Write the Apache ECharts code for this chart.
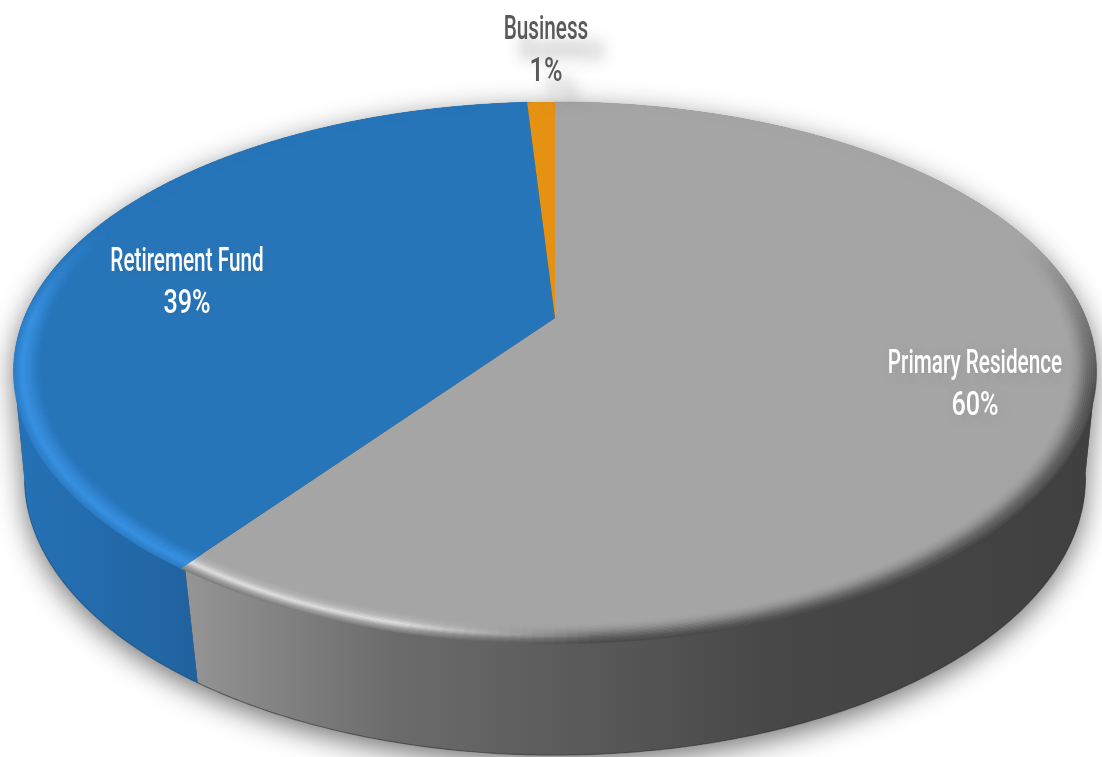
<!DOCTYPE html>
<html><head><meta charset="utf-8">
<style>html,body{margin:0;padding:0;background:#fff}#c{width:1102px;height:757px}</style>
<script src="https://cdn.jsdelivr.net/npm/echarts@6/dist/echarts.min.js"></script>
</head><body><div id="c"></div>
<script>
const categories = ['Primary Residence', 'Retirement Fund', 'Business'];
const values = [60, 39, 1];

// appearance, per category
const faceColors = ['#a5a5a5', '#2775b9', '#e59213'];
const wallStops = [
  [[0,'#949494'],[0.22,'#6c6c6c'],[0.45,'#585858'],[0.65,'#474747'],[1,'#404040']],
  [[0,'#2572b6'],[0.1,'#2369a9'],[0.22,'#1f5d96'],[1,'#1f5d96']],
  [[0,'#b06f0d'],[1,'#b06f0d']]
];
const labelColors = ['#ffffff', '#ffffff', '#595959'];
const labelCenters = [[975, 385], [187, 283], [546, 51]];

// projection of the pie's disc on to the page
const OX = 555, OY = 318, SX = 531, SY = 258, K = 0.194;
const RIM_CY = 370, BOTTOM_CY = 478, BOTTOM_SX = 0.98, BOTTOM_SY = 1.0336;
const TANGENT = Math.acos(-K);
const TAU = Math.PI * 2;
const total = values.reduce((a, b) => a + b, 0);
const starts = []; values.reduce((acc, v, i) => { starts[i] = acc; return acc + v; }, 0);
const angleOf = s => s / total * TAU;
const deg = d => d * Math.PI / 180;

function topPt(th, r) {
  const u = r * Math.sin(th), v = -r * Math.cos(th), d = 1 - K * v;
  return [OX + SX * u / d, OY + SY * v / d];
}
function bottomPt(th) {
  const p = topPt(th - deg(0.7), 1);
  return [OX + (p[0] - OX) * BOTTOM_SX, BOTTOM_CY + (p[1] - RIM_CY) * BOTTOM_SY];
}
function rimRadius(th) {
  const c = Math.max(0, -Math.cos(th));
  return 1 + 0.014 * c * c;
}
function arc(a, b, fn) {
  const n = Math.max(2, Math.ceil(Math.abs(b - a) / 0.01)), pts = [];
  for (let i = 0; i <= n; i++) pts.push(fn(a + (b - a) * i / n));
  return pts;
}
function hex(c) { return [1,3,5].map(i => parseInt(c.substr(i, 2), 16)); }
function mixRgb(a, b, t) {
  t = Math.max(0, Math.min(1, t));
  const A = hex(a), B = hex(b);
  return A.map((x, i) => Math.round(x + (B[i] - x) * t));
}
function toHex(m) { return '#' + m.map(x => x.toString(16).padStart(2, '0')).join(''); }
function mix(a, b, t) { return toHex(mixRgb(a, b, t)); }
function ramp(stops, t) {
  for (let i = 1; i < stops.length; i++) {
    if (t <= stops[i][0]) {
      const s = stops[i - 1], e = stops[i];
      return mix(s[1], e[1], (t - s[0]) / (e[0] - s[0]));
    }
  }
  return stops[stops.length - 1][1];
}

// rim bevel colour: t = 0 at the rim edge, 1 at the inner end of the bevel
function bevelColor(i, th, t) {
  const d = th * 180 / Math.PI;
  const face = faceColors[i];
  if (i === 0) {
    const lit = ramp([[0,'#787878'],[0.25,'#a8a8a8'],[0.45,'#e2e2e2'],[0.7,'#b6b6b6'],[1,face]], t);
    const dark = ramp([[0,'#484848'],[0.35,'#626262'],[0.7,'#909090'],[1,face]], t);
    const w = Math.max(0, Math.min(1, (d - 176) / 18));      // towards the lit left end
    const fade = Math.max(0, Math.min(1, (d - 72) / 34));    // no bevel on the far rim
    return mix(face, mix(dark, lit, w), fade);
  }
  if (i === 1) {
    const lit = ramp([[0,'#2a7cc4'],[0.35,'#3a92e2'],[0.6,'#3388d4'],[1,face]], t);
    const fade = Math.max(0, Math.min(1, (292 - d) / 22));
    return mix(face, lit, fade);
  }
  return face;
}

function renderItem(params) {
  const i = params.dataIndex;
  const layer = params.seriesIndex;
  const a = angleOf(starts[i]), b = angleOf(starts[i] + values[i]);
  const children = [];
  if (layer === 0) {
    if (i === 0) {
      children.push({ type: 'polygon', shape: { points: arc(TANGENT, TAU - TANGENT, bottomPt).concat(arc(TAU - TANGENT, TANGENT + TAU, th => topPt(th, 1))) },
        style: { fill: '#555', shadowColor: 'rgba(0,0,0,0.55)', shadowBlur: 28, shadowOffsetY: 8 } });
    }
    return { type: 'group', children };
  }
  if (layer === 1) {
    const s = Math.max(a, TANGENT), e = Math.min(b, TAU - TANGENT);
    if (e > s) {
      const grad = i === 1
        ? { type: 'linear', x: 14, y: 0, x2: 1096, y2: 0, global: true, colorStops: wallStops[1].map(c => ({ offset: c[0], color: c[1] })) }
        : { type: 'linear', x: 190, y: 0, x2: 1096, y2: 0, global: true, colorStops: wallStops[i].map(c => ({ offset: c[0], color: c[1] })) };
      const tp = arc(s, e, th => topPt(th, 1)), bt = arc(e, s, bottomPt);
      children.push({ type: 'polygon', shape: { points: tp.concat(bt) }, style: { fill: grad } });
      children.push({ type: 'polyline', shape: { points: bt }, style: { fill: null, stroke: i === 1 ? '#174a78' : '#333333', lineWidth: 1.2, opacity: 0.5 } });
    }
    return { type: 'group', children };
  }
  // top face
  const face = [[OX, OY]].concat(arc(a, b, th => topPt(th, 1)));
  children.push({ type: 'polygon', shape: { points: face }, style: { fill: faceColors[i] } });
  // rim bevel
  const BANDS = 14, BEVEL = 0.048, STEP = deg(1);
  if (i < 2) {
    for (let j = 0; j < BANDS; j++) {
      const f0 = BEVEL * j / BANDS, f1 = BEVEL * (j + 1) / BANDS;
      for (let th = a; th < b - 1e-6; th += STEP) {
        const th2 = Math.min(b, th + STEP);
        const col = bevelColor(i, (th + th2) / 2, (j + 0.5) / BANDS);
        children.push({ type: 'polygon',
          shape: { points: [topPt(th, rimRadius(th) - f0), topPt(th2, rimRadius(th2) - f0), topPt(th2, rimRadius(th2) - f1), topPt(th, rimRadius(th) - f1)] },
          style: { fill: col, stroke: col, lineWidth: 0.5 } });
      }
    }
  }
  return { type: 'group', children };
}

function labelStyle(i, text) {
  return { text, align: 'center', verticalAlign: 'middle',
    fontFamily: 'Roboto', fontWeight: 500, fontSize: 34, fill: labelColors[i],
    textShadowColor: i === 2 ? 'rgba(0,0,0,0.28)' : 'rgba(0,0,0,0.05)', textShadowBlur: i === 2 ? 14 : 8,
    textShadowOffsetX: i === 2 ? 16 : 3, textShadowOffsetY: i === 2 ? 20 : 3 };
}
function renderLabel(params) {
  const i = params.dataIndex;
  const pct = Math.round(values[i] / total * 100) + '%';
  const [x, y] = labelCenters[i];
  return { type: 'group', children: [
    { type: 'text', x, y: y - 21, scaleX: 0.61, style: labelStyle(i, categories[i]) },
    { type: 'text', x, y: y + 21, scaleX: 0.74, style: labelStyle(i, pct) }
  ] };
}

const data = values.map(v => v);
const base = { type: 'custom', coordinateSystem: 'none', silent: true, animation: false, data };
const chart = echarts.init(document.getElementById('c'), null, { renderer: 'canvas' });
chart.setOption({
  backgroundColor: '#ffffff',
  animation: false,
  series: [
    Object.assign({}, base, { renderItem, z: 1 }),
    Object.assign({}, base, { renderItem, z: 2 }),
    Object.assign({}, base, { renderItem, z: 3 }),
    Object.assign({}, base, { renderItem: renderLabel, z: 4 })
  ]
});
</script></body></html>
